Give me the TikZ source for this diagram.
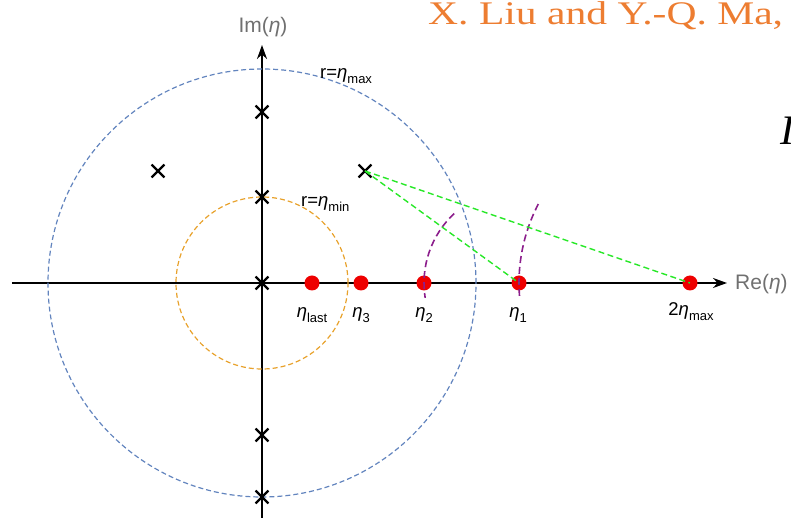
\documentclass[tikz,border=0pt]{standalone}
\usepackage{fontspec}
\usepackage{graphicx}
\setmainfont{Liberation Sans}
\newfontfamily\tnr{Liberation Serif}
\usetikzlibrary{arrows.meta,shapes.misc}
\definecolor{cblue}{RGB}{98,132,190}
\definecolor{corange}{RGB}{232,162,44}
\definecolor{cgreen}{RGB}{40,232,40}
\definecolor{cpurple}{RGB}{140,30,140}
\definecolor{cred}{RGB}{238,0,0}
\definecolor{ctitle}{RGB}{237,125,49}
\definecolor{cgray}{RGB}{112,112,112}
\newcommand{\eet}{\textit{η}}
\newcommand{\ssub}[1]{\raisebox{-0.22em}{\fontsize{13}{13}\selectfont #1}}
\begin{document}
\begin{tikzpicture}[x=1pt,y=1pt,
  axis/.style={line width=1.8pt,-{Stealth[length=14pt,width=10pt]}},
  xmk/.style={cross out,draw,line width=2.3pt,minimum size=10.5pt,inner sep=0pt},
  dot/.style={circle,fill=cred,minimum size=15pt,inner sep=0pt},
  circ/.style={line width=1.2pt,dash pattern=on 5pt off 3pt},
  parc/.style={cpurple,line width=1.6pt,dash pattern=on 7pt off 4pt},
  gline/.style={cgreen,line width=1.4pt,dash pattern=on 6pt off 3.5pt},
  lbl/.style={inner sep=0pt,font=\fontsize{18.5}{18.5}\selectfont},
  axlbl/.style={inner sep=0pt,text=cgray,font=\fontsize{21}{21}\selectfont}]
\clip (-262,-235) rectangle (529,283);
\useasboundingbox (-262,-235) rectangle (529,283);
% axes
\coordinate (xl) at (-250,0);
\coordinate (xr) at (465,0);
\coordinate (yb) at (0,-236);
\coordinate (yt) at (0,238);
\draw[axis] (xl) -- (xr);
\draw[axis] (yb) -- (yt);
% circles
\coordinate (O) at (0,0);
\draw[circ,cblue] (O) circle[radius=214];
\draw[circ,corange] (O) circle[radius=86];
% red dots
\node[dot] (el) at (50,0) {};
\node[dot] (e3) at (99,0) {};
\node[dot] (e2) at (162,0) {};
\node[dot] (e1) at (257,0) {};
\node[dot] (em) at (428,0) {};
% purple arcs
\draw[parc] ([shift={(133:95)}]e1.center) arc[start angle=133,end angle=189,radius=95];
\draw[parc] ([shift={(152.5:171)}]em.center) arc[start angle=152.5,end angle=185,radius=171];
% crosses
\node[xmk] (c1) at (0,171) {};
\node[xmk] (c2) at (0,86) {};
\node[xmk] (c3) at (0,0) {};
\node[xmk] (c4) at (0,-152) {};
\node[xmk] (c5) at (0,-214) {};
\node[xmk] (c6) at (-104,112) {};
\node[xmk] (q) at (103,112) {};
% green lines
\draw[gline] (q.center) -- (e1.center);
\draw[gline] (q.center) -- (em.center);
% labels
\node[axlbl,anchor=base] (im) at (1,250) {Im(\eet)};
\node[axlbl,anchor=base west] (re) at (473,-7) {Re(\eet)};
\node[lbl,anchor=base west] (rmax) at (58,204) {r=\eet\ssub{max}};
\node[lbl,anchor=base west] (rmin) at (39,76) {r=\eet\ssub{min}};
\node[lbl,anchor=base] (ll) at (50,-35) {\eet\ssub{last}};
\node[lbl,anchor=base] (l3) at (99,-35) {\eet\ssub{3}};
\node[lbl,anchor=base] (l2) at (162,-35) {\eet\ssub{2}};
\node[lbl,anchor=base] (l1) at (256,-35) {\eet\ssub{1}};
\node[lbl,anchor=base] (lm) at (429,-33) {2\eet\ssub{max}};
% cut-off slide text
\node[anchor=base west,inner sep=0pt,text=ctitle] (title) at (166,258) {\scalebox{1.26}[1]{\fontsize{33}{33}\selectfont\tnr X. Liu and Y.-Q. Ma,}};
\node[anchor=base west,inner sep=0pt] (ii) at (518,138) {\fontsize{42}{42}\selectfont\tnr\itshape I};
\end{tikzpicture}
\end{document}
